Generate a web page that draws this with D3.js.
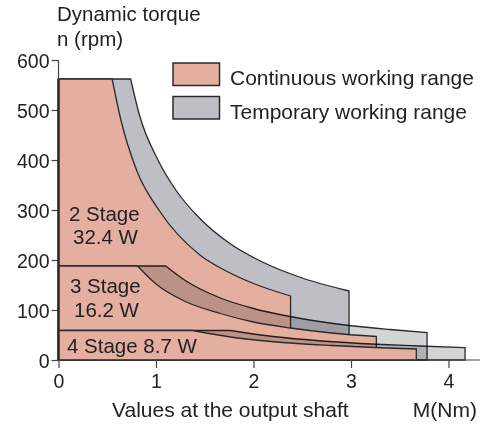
<!DOCTYPE html>
<html>
<head>
<meta charset="utf-8">
<script src="https://cdn.jsdelivr.net/npm/d3@7"></script>
<style>
  body { margin: 0; background: #fff; }
  text { font-family: "Liberation Sans", Arial, sans-serif; fill: #222; }
</style>
</head>
<body>
<div id="chart"></div>
<script>
  // torque M (Nm) and speed n (rpm) along the top edge of each working range
  const cont2M = [0, 0.55, 0.64, 0.80, 1.04, 1.45, 1.72, 2.00, 2.38];
  const cont2N = [562, 562, 480, 380, 297, 210, 178, 153, 128];
  const temp2M = [0, 0.74, 0.83, 1.02, 1.21, 1.45, 1.75, 2.07, 2.50, 2.98];
  const temp2N = [562, 562, 490, 400, 338, 283, 234, 198, 164, 138];
  const cont3M = [0, 0.81, 1.00, 1.30, 1.66, 2.00, 2.38, 2.80, 3.26];
  const cont3N = [188, 188, 152, 117, 93, 76, 64, 54, 47];
  const temp3M = [0, 1.10, 1.30, 1.66, 2.00, 2.40, 2.98, 3.40, 3.78];
  const temp3N = [188, 188, 159, 124, 103, 86, 69, 61, 55];
  const cont4M = [0, 1.37, 1.80, 2.30, 2.80, 3.30, 3.67];
  const cont4N = [59, 59, 45, 35, 29, 24.5, 22];
  const temp4M = [0, 1.76, 2.20, 2.70, 3.26, 3.70, 4.17];
  const temp4N = [59, 59, 47, 38, 31.5, 28, 24.7];

  const stageNames = ["2 Stage", "3 Stage", "4 Stage"];
  const stagePower = ["32.4 W", "16.2 W", "8.7 W"];
  const xTicks = [0, 1, 2, 3, 4];
  const yTicks = [0, 100, 200, 300, 400, 500, 600];
  const legendLabels = ["Continuous working range", "Temporary working range"];

  const pink = "#e4aea0", gray = "#bebfc4", light = "#d3d4d6", ink = "#2a2a2a";

  const width = 492, height = 425;
  const x = d3.scaleLinear().domain([0, 4]).range([58.5, 448.5]);
  const y = d3.scaleLinear().domain([0, 600]).range([360, 60]);

  const svg = d3.select("#chart").append("svg")
    .attr("width", width)
    .attr("height", height);

  const curve = d3.line()
    .x(d => x(d[0]))
    .y(d => y(d[1]))
    .curve(d3.curveMonotoneX);

  function regionPath(M, N) {
    const pts = M.map((m, i) => [m, N[i]]);
    return "M" + x(0) + "," + y(0) + "L" + x(0) + "," + y(N[0]) +
      curve(pts.slice(1)).replace(/^M/, "L") +
      "L" + x(M[M.length - 1]) + "," + y(0) + "Z";
  }

  const regions = [
    { M: temp2M, N: temp2N, fill: gray, blend: "normal" },
    { M: cont2M, N: cont2N, fill: pink, blend: "normal" },
    { M: temp3M, N: temp3N, fill: light, blend: "multiply" },
    { M: cont3M, N: cont3N, fill: pink, blend: "normal" },
    { M: temp4M, N: temp4N, fill: light, blend: "multiply" },
    { M: cont4M, N: cont4N, fill: pink, blend: "normal" }
  ];

  svg.append("g")
    .selectAll("path")
    .data(regions)
    .join("path")
    .attr("d", d => regionPath(d.M, d.N))
    .attr("fill", d => d.fill)
    .attr("stroke", ink)
    .attr("stroke-width", 1.3)
    .style("mix-blend-mode", d => d.blend);

  // axes
  const xAxis = svg.append("g")
    .attr("transform", `translate(0,${y(0)})`)
    .call(d3.axisBottom(x).tickValues(xTicks).tickFormat(d3.format("d")).tickSize(8).tickPadding(2));
  xAxis.select(".domain").attr("d", `M${x(0)},0H480`);

  const yAxis = svg.append("g")
    .attr("transform", `translate(${x(0)},0)`)
    .call(d3.axisLeft(y).tickValues(yTicks).tickSize(7).tickPadding(2));
  yAxis.select(".domain").attr("d", `M0,${y(600)}V${y(0)}`);

  svg.selectAll(".tick line, .domain").attr("stroke", "#444").attr("stroke-width", 1.2);
  svg.selectAll(".tick text")
    .attr("font-size", 19.5)
    .attr("fill", "#222")
    .style("font-family", "'Liberation Sans', Arial, sans-serif");
  yAxis.selectAll(".tick text").attr("dy", "0.36em");
  xAxis.selectAll(".tick text").attr("dy", "0.9em");

  // thick left edge of the ranges
  svg.append("line")
    .attr("x1", x(0)).attr("x2", x(0))
    .attr("y1", y(cont2N[0])).attr("y2", y(0))
    .attr("stroke", ink).attr("stroke-width", 2.4);

  // axis titles
  svg.append("text").attr("x", 57).attr("y", 21).attr("font-size", 20.5).text("Dynamic torque");
  svg.append("text").attr("x", 57).attr("y", 46).attr("font-size", 20.5).text("n (rpm)");
  svg.append("text").attr("x", 112).attr("y", 417).attr("font-size", 21).text("Values at the output shaft");
  svg.append("text").attr("x", 477).attr("y", 417).attr("font-size", 21)
    .attr("text-anchor", "end").text("M(Nm)");

  // stage labels
  const stageText = svg.append("g").attr("font-size", 20.5);
  stageText.append("text").attr("x", 69).attr("y", 221).text(stageNames[0]);
  stageText.append("text").attr("x", 73).attr("y", 244).text(stagePower[0]);
  stageText.append("text").attr("x", 70).attr("y", 293).text(stageNames[1]);
  stageText.append("text").attr("x", 74).attr("y", 317).text(stagePower[1]);
  stageText.append("text").attr("x", 67).attr("y", 353).text(stageNames[2] + " " + stagePower[2]);

  // legend
  const legend = svg.append("g").attr("transform", "translate(173,63)");
  legend.selectAll("rect")
    .data([pink, gray])
    .join("rect")
    .attr("x", 0)
    .attr("y", (d, i) => i * 33.5)
    .attr("width", 46.5)
    .attr("height", 22.5)
    .attr("fill", d => d)
    .attr("stroke", ink)
    .attr("stroke-width", 1.5);
  legend.selectAll("text")
    .data(legendLabels)
    .join("text")
    .attr("x", 57)
    .attr("y", (d, i) => 22 + i * 33.5)
    .attr("font-size", 21)
    .text(d => d);
</script>
</body>
</html>
